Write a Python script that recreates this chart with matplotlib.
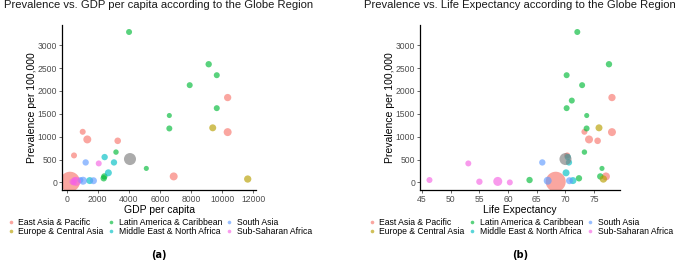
import numpy as np
import pandas as pd
import matplotlib
matplotlib.use("Agg")
import matplotlib.pyplot as plt
from matplotlib.lines import Line2D

plt.rcParams['font.family'] = ['Liberation Sans', 'DejaVu Sans']

# one entry per country: region, prevalence per 100k, gdp per capita, life expectancy, population (M)
region = ["EAP"] * 8 + ["LAC"] * 13 + ["ECA"] * 2 + ["MENA"] * 4 + ["SA"] * 4 + ["SSA"] * 5 + ["NA"]
prevalence = [1856, 1100, 1107, 940, 910, 590, 131, 15,
              3290, 2585, 2345, 2127, 1790, 1624, 1463, 1180, 663, 306, 131, 90, 52,
              1194, 74,
              554, 437, 210, 40,
              437, 37, 37, 50,
              415, 52, 15, 22, 0,
              511]
gdp = [10350, 10350, 1030, 1325, 3280, 470, 6880, 212,
       4010, 9130, 9650, 7910, np.nan, 9650, 6600, 6600, 3170, 5120, 2420, 2380, np.nan,
       9390, 11640,
       2440, 3040, 2680, 1480,
       1220, 1050, 1720, 880,
       2060, 500, 380, 620, 450,
       4070]
life_exp = [78.1, 78.1, 73.3, 74.1, 75.6, 70.3, 77.05, 68.3,
            72.06, 77.58, 70.2, 72.9, 71.1, 70.2, 73.7, 73.68, 73.3, 76.36, 76.06, 72.35, 63.74,
            75.84, 76.6,
            70.4, 70.6, 70.1, 71.3,
            65.96, 66.9, 70.7, np.nan,
            53.07, 46.3, 55.0, 58.2, 60.3,
            70.0]
population = [45, 70, 13, 70, 25, 13, 70, 1400,
              13, 20, 13, 13, 13, 13, 2, 13, 5, 2, 20, 20, 20,
              36, 45,
              20, 20, 36, 36,
              20, 70, 36, 13,
              13, 13, 20, 118, 13,
              330]

region_names = {"EAP": "East Asia & Pacific", "ECA": "Europe & Central Asia",
                "LAC": "Latin America & Caribbean", "MENA": "Middle East & North Africa",
                "SA": "South Asia", "SSA": "Sub-Saharan Africa"}
region_order = ["EAP", "ECA", "LAC", "MENA", "SA", "SSA"]
region_colors = {"EAP": "#F8766D", "ECA": "#B79F00", "LAC": "#00BA38", "MENA": "#00BFC4",
                 "SA": "#619CFF", "SSA": "#F564E3", "NA": "#7F7F7F"}

df = pd.DataFrame({"region": region, "prevalence": prevalence, "gdp": gdp,
                   "life_exp": life_exp, "pop": population})
diam = 4.5 + 15.5 * np.sqrt(df["pop"] / df["pop"].max())   # px
df["s"] = (diam * 0.72) ** 2
df["color"] = df["region"].map(region_colors)

fig = plt.figure(figsize=(6.83, 2.61), dpi=100)
W, H = 683, 261


def make_axes(x0, x1, y0, y1):
    return fig.add_axes([x0 / W, 1 - y1 / H, (x1 - x0) / W, (y1 - y0) / H])


ax1 = make_axes(62, 256, 25, 190)
ax2 = make_axes(420, 620, 25, 190)

panels = [(ax1, "gdp", "GDP per capita", "Prevalence vs. GDP per capita according to the Globe Region",
           (-302, 12173), [0, 2000, 4000, 6000, 8000, 10000, 12000], 8.5, "(a)"),
          (ax2, "life_exp", "Life Expectancy", "Prevalence vs. Life Expectancy according to the Globe Region",
           (44.65, 79.5), [45, 50, 55, 60, 65, 70, 75], 369.4, "(b)")]

for ax, col, xlabel, title, xlim, xticks, leg_x, tag in panels:
    d = df.dropna(subset=[col])
    ax.scatter(d[col], d["prevalence"], s=d["s"], c=d["color"], alpha=0.65, linewidths=0)
    ax.set_xlim(*xlim)
    ax.set_ylim(-166, 3443)
    ax.set_xticks(xticks)
    ax.set_yticks([0, 500, 1000, 1500, 2000, 2500, 3000])
    for sp in ["top", "right"]:
        ax.spines[sp].set_visible(False)
    for sp in ["left", "bottom"]:
        ax.spines[sp].set_linewidth(0.9)
        ax.spines[sp].set_color("black")
    ax.tick_params(labelsize=6.2, colors="#4D4D4D", length=2, width=0.6, pad=1.5)
    ax.set_xlabel(xlabel, fontsize=7.5, labelpad=0.5)
    ax.set_ylabel("Prevalence per 100,000", fontsize=7.5, labelpad=0.5)
    ax.set_title(title, fontsize=8.1, pad=12, color="#1a1a1a")

    handles = [Line2D([], [], marker="o", linestyle="", markersize=2.6,
                      markerfacecolor=region_colors[r], markeredgewidth=0, alpha=0.65)
               for r in region_order]
    labels = [region_names[r] for r in region_order]
    fig.legend(handles, labels, loc="upper left", bbox_to_anchor=(leg_x / W, 1 - 218 / H),
               ncol=3, fontsize=6.2, frameon=False, handlelength=0.5, handletextpad=0.65,
               columnspacing=0.6, labelspacing=0.05, borderaxespad=0, borderpad=0)

    cx = (ax.get_position().x0 + ax.get_position().x1) / 2
    fig.text(cx, 1 - 255 / H, tag, ha="center", va="center", fontsize=7, fontweight="bold",
             family=["DejaVu Sans"])

fig.savefig("out.png", dpi=100)
